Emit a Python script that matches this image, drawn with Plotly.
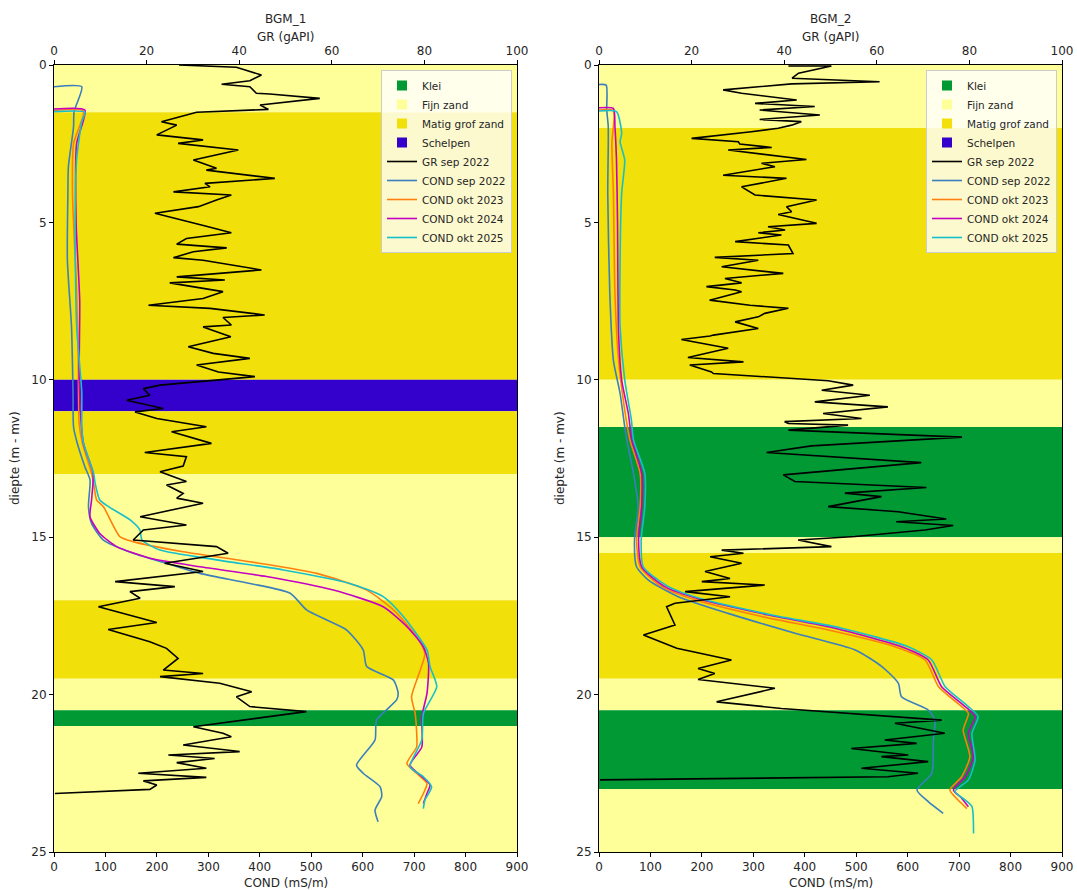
import plotly.graph_objects as go

# ---------------- data ----------------
# Lithology bands (top depth, bottom depth, class)
bands1_top = [0.0, 1.5, 10.0, 11.0, 13.0, 17.0, 19.5, 20.5, 21.0]
bands1_bot = [1.5, 10.0, 11.0, 13.0, 17.0, 19.5, 20.5, 21.0, 25.0]
bands1_cls = ["Fijn zand", "Matig grof zand", "Schelpen", "Matig grof zand", "Fijn zand",
              "Matig grof zand", "Fijn zand", "Klei", "Fijn zand"]

bands2_top = [0.0, 2.0, 10.0, 11.5, 15.0, 15.5, 19.5, 20.5, 23.0]
bands2_bot = [2.0, 10.0, 11.5, 15.0, 15.5, 19.5, 20.5, 23.0, 25.0]
bands2_cls = ["Fijn zand", "Matig grof zand", "Fijn zand", "Klei", "Fijn zand",
              "Matig grof zand", "Fijn zand", "Klei", "Fijn zand"]

litho_names = ["Klei", "Fijn zand", "Matig grof zand", "Schelpen"]
litho_colors = ["#009933", "#FFFF99", "#F1E00A", "#3300CC"]

# BGM_1 GR sep 2022
gr1_depth = [0.00, 0.07, 0.32, 0.50, 0.61, 0.69, 0.90, 0.92, 1.06, 1.27, 1.41, 1.50, 1.80, 1.91,
             2.22, 2.38, 2.49, 2.70, 3.02, 3.28, 3.34, 3.60, 3.76, 3.87, 4.03, 4.13, 4.29, 4.50,
             4.71, 4.93, 5.12, 5.33, 5.51, 5.69, 5.81, 5.93, 6.12, 6.20, 6.51, 6.73, 6.83, 6.92,
             7.20, 7.42, 7.63, 7.73, 7.94, 8.02, 8.26, 8.32, 8.63, 8.95, 9.16, 9.32, 9.53, 9.75,
             9.90, 10.17, 10.28, 10.49, 10.65, 10.91, 11.02, 11.23, 11.49, 11.65, 12.02, 12.31,
             12.44, 12.74, 12.92, 13.23, 13.34, 13.61, 13.76, 13.92, 14.13, 14.35, 14.61, 14.77,
             15.09, 15.30, 15.51, 15.83, 16.09, 16.41, 16.57, 16.73, 16.94, 17.21, 17.71, 17.93,
             18.32, 18.53, 18.85, 19.22, 19.33, 19.43, 19.64, 19.91, 20.07, 20.38, 20.54, 21.02,
             21.23, 21.34, 21.60, 21.81, 21.92, 22.03, 22.16, 22.34, 22.50, 22.63, 22.74, 22.87,
             23.01, 23.14]
gr1_val = [27.0, 39.4, 44.8, 42.3, 36.2, 42.3, 43.7, 46.6, 57.4, 44.5, 46.3, 30.8, 23.2, 26.5,
           22.2, 32.2, 26.8, 39.8, 30.1, 35.1, 32.9, 47.7, 32.6, 33.7, 25.8, 38.3, 35.1, 31.2,
           21.8, 27.9, 32.9, 38.3, 28.6, 26.5, 37.3, 30.1, 25.8, 32.2, 44.8, 26.5, 36.9, 25.0,
           36.5, 32.2, 20.4, 33.7, 45.5, 36.5, 38.3, 32.2, 38.2, 29.0, 34.4, 42.3, 30.8, 35.5,
           43.4, 22.9, 19.3, 20.7, 15.7, 23.6, 17.5, 22.2, 32.9, 25.4, 34.0, 19.6,
           28.6, 27.9, 22.9, 28.6, 24.3, 27.9, 26.5, 32.2, 25.8, 18.6, 28.6, 19.3,
           17.1, 35.1, 37.6, 23.9, 32.2, 13.2, 26.1, 16.4, 18.6, 9.6, 22.2, 11.7,
           20.7, 24.3, 26.8, 23.6, 32.2, 22.9, 35.8, 42.7, 39.4, 42.3, 54.5, 30.1,
           36.5, 38.3, 27.9, 40.1, 24.7, 34.7, 26.5, 32.9, 18.2, 32.9, 19.3, 22.2,
           20.7, 0.2]

# BGM_1 COND
c1a_depth = [0.69, 0.69, 1.48, 1.96, 3.23, 4.08, 6.2, 8.3, 10.4, 11.5, 12.0, 12.76, 13.18, 14.03,
             14.56, 15.09, 15.51, 15.83, 16.15, 16.47, 16.78, 17.31, 17.63, 17.95, 18.58, 19.11,
             19.54, 19.96, 20.17, 20.81, 21.44, 22.24, 22.50, 22.93, 23.24, 23.67, 24.04]
c1a_val = [0, 54, 39, 38, 28, 27, 26, 34, 37, 38, 45, 60, 70, 67,
           73, 96, 154, 219, 284, 381, 459, 491, 530, 569, 601, 608,
           660, 669, 666, 627, 624, 588, 601, 634, 637, 624, 630]

c1b_depth = [1.45, 1.47, 2.5, 4.08, 7.2, 9.3, 11.4, 12.0, 12.97, 13.29, 13.82, 14.03, 14.98, 15.14,
             15.46, 15.78, 16.15, 16.68, 17.31, 18.16, 18.69, 19.22, 20.07, 20.60, 21.23, 21.66,
             22.19, 22.50, 22.82, 23.14, 23.46]
c1b_val = [0, 57, 38, 36, 44, 47, 49, 55, 73, 77, 83, 96, 128, 154,
           251, 381, 511, 608, 660, 705, 721, 712, 695, 702, 705, 705,
           686, 705, 725, 718, 708]

c1c_depth = [1.40, 1.43, 2.5, 5.0, 7.5, 10.0, 12.0, 12.97, 13.82, 14.35, 14.88, 15.30, 15.67, 15.94,
             16.25, 16.68, 17.21, 17.84, 18.48, 19.01, 19.96, 20.70, 21.66, 22.24, 22.56, 22.87,
             23.14, 23.46]
c1c_val = [0, 60, 44, 43, 50, 49, 57, 76, 73, 70, 89, 122, 187, 284,
           413, 543, 640, 686, 718, 728, 725, 715, 715, 692, 712, 731,
           725, 718]

c1d_depth = [1.48, 1.50, 1.80, 3.0, 5.0, 8.3, 10.4, 11.5, 12.0, 12.97, 13.29, 13.82, 14.03, 14.45,
             14.77, 15.09, 15.41, 15.72, 16.04, 16.47, 16.89, 17.52, 18.58, 19.11, 19.75, 20.60,
             21.44, 22.29, 22.61, 22.93, 23.35, 23.62]
c1d_val = [0, 60, 54, 44, 41, 44, 54, 54, 57, 77, 80, 89, 106, 148,
           167, 171, 206, 316, 446, 575, 640, 679, 725, 731, 744, 718,
           715, 692, 718, 734, 721, 718]

# BGM_2 GR sep 2022
gr2_depth = [0.03, 0.03, 0.26, 0.42, 0.53, 0.60, 0.79, 0.90, 1.11, 1.22, 1.32, 1.43, 1.59, 1.73,
             1.80, 1.91, 2.01, 2.12, 2.33, 2.44, 2.51, 2.62, 2.70, 2.86, 3.00, 3.12, 3.23, 3.50,
             3.60, 3.87, 4.13, 4.29, 4.50, 4.66, 4.75, 5.03, 5.14, 5.24, 5.33, 5.40, 5.61, 5.72,
             5.99, 6.11, 6.20, 6.41, 6.62, 6.78, 6.92, 7.04, 7.15, 7.20, 7.47, 7.63, 7.73, 7.89,
             8.00, 8.16, 8.37, 8.58, 8.61, 8.72, 9.00, 9.29, 9.43, 9.53, 9.75, 9.80, 9.99, 10.03,
             10.17, 10.33, 10.49, 10.70, 10.86, 11.07, 11.23, 11.33, 11.39, 11.44, 11.60, 11.82,
             12.10, 12.31, 12.63, 13.02, 13.23, 13.42, 13.60, 13.71, 14.03, 14.19, 14.42, 14.51,
             14.63, 14.77, 14.98, 15.09, 15.30, 15.41, 15.51, 15.62, 15.83, 16.09, 16.31, 16.41,
             16.52, 16.73, 16.89, 17.10, 17.21, 17.79, 18.11, 18.53, 18.90, 19.17, 19.33, 19.52,
             19.80, 20.23, 20.44, 20.81, 20.91, 21.23, 21.44, 21.55, 21.71, 21.92, 21.97, 22.13,
             22.34, 22.50, 22.61, 22.71]
gr2_val = [40.9, 50.2, 43.1, 41.7, 60.6, 41.6, 26.8, 30.8, 42.7, 33.7, 46.6, 34.7, 47.7, 34.7,
           43.7, 41.6, 38.7, 32.9, 20.0, 30.1, 30.4, 37.3, 27.9, 36.5, 44.8, 35.1, 38.0, 26.8,
           40.5, 30.8, 33.7, 47.0, 40.5, 41.6, 38.7, 47.0, 36.5, 40.2, 34.4, 39.4, 29.4, 40.9,
           41.9, 25.0, 34.4, 26.5, 39.8, 27.2, 30.8, 23.2, 29.4, 30.8, 23.9, 32.6, 40.9, 35.8,
           34.4, 29.4, 34.4, 24.7, 24.0, 17.8, 27.9, 19.2, 31.2, 19.6, 24.3, 24.7, 43.7, 49.5,
           54.9, 48.1, 58.5, 46.6, 62.4, 48.4, 56.7, 40.1, 40.9, 53.8, 40.9, 78.4,
           45.9, 36.2, 69.6, 39.8, 42.3, 70.7, 53.1, 61.0, 49.5, 64.6, 75.0, 64.2,
           76.5, 70.4, 55.3, 43.0, 50.2, 26.5, 31.2, 24.0, 30.8, 22.9, 28.3, 22.2,
           35.8, 18.6, 28.3, 16.4, 14.6, 16.4, 9.6, 16.8, 28.6, 21.4, 25.0, 21.4,
           38.0, 25.4, 39.4, 74.0, 63.9, 74.7, 61.7, 68.6, 54.5, 66.8, 61.0, 71.1,
           56.7, 68.9, 62.4, 0.2]

# BGM_2 COND
c2a_depth = [0.62, 0.64, 1.43, 1.96, 4.08, 7.26, 9.38, 10.43, 11.49, 11.91, 12.97, 14.03, 15.09,
             15.94, 16.36, 16.89, 17.42, 18.05, 18.58, 19.11, 19.64, 20.07, 20.49, 20.81, 21.44,
             22.50, 23.03, 23.40, 23.77]
c2a_val = [0, 14, 15, 18, 17, 21, 28, 41, 50, 54, 67, 76, 69,
           73, 96, 154, 251, 381, 498, 550, 582, 588, 640, 653, 650,
           647, 618, 640, 669]

c2b_depth = [1.43, 1.45, 2.49, 4.08, 7.26, 9.38, 10.96, 11.91, 12.97, 14.03, 15.09, 15.94, 16.57,
             16.99, 17.52, 17.95, 18.48, 18.90, 19.75, 20.38, 20.60, 21.13, 21.97, 22.61, 23.03,
             23.35, 23.62]
c2b_val = [0, 28, 25, 28, 31, 38, 50, 60, 80, 80, 73, 80, 122,
           187, 316, 446, 575, 634, 660, 705, 718, 708, 721, 705, 682,
           698, 715]

c2c_depth = [1.36, 1.38, 1.96, 3.0, 5.0, 8.5, 10.0, 11.07, 11.91, 12.97, 14.03, 15.09, 15.94,
             16.57, 16.99, 17.47, 17.89, 18.48, 18.90, 19.75, 20.38, 20.70, 21.23, 21.97, 22.61,
             23.03, 23.29, 23.56]
c2c_val = [0, 28, 31, 34, 36, 38, 44, 57, 64, 83, 83, 77, 83,
           128, 200, 329, 459, 588, 640, 666, 712, 731, 718, 728, 712,
           689, 705, 718]

c2d_depth = [1.46, 1.48, 2.17, 2.44, 3.02, 4.08, 6.2, 8.3, 10.0, 11.28, 11.91, 12.97, 14.03, 15.09,
             15.94, 16.57, 16.99, 17.47, 17.89, 18.48, 18.90, 19.75, 20.38, 20.70, 21.23, 22.08,
             22.71, 23.08, 23.35, 23.56, 24.41]
c2d_val = [0, 34, 44, 41, 50, 44, 41, 41, 50, 63, 67, 89, 89, 82,
           86, 135, 206, 336, 472, 601, 647, 673, 718, 737, 725, 731,
           718, 692, 712, 725, 728]

cond_names = ["COND sep 2022", "COND okt 2023", "COND okt 2024", "COND okt 2025"]
cond_colors = ["#3b7fbf", "#ff7f0e", "#c400c4", "#17bfcc"]

# ---------------- figure ----------------
W, H = 1077, 890
ML, MR, MT, MB = 54, 15, 65, 38          # plot-area margins (px)
PW, PH = W - ML - MR, H - MT - MB       # inner paper area


def px_x(px):
    return (px - ML) / PW


def px_y(py):
    return (H - MB - py) / PH


fig = go.Figure()

FONT = "DejaVu Sans"
TXT = "#262626"

panels = [
    dict(xb="x", xt="x2", y="y", legend="legend",
         gr=(gr1_depth, gr1_val),
         cond=[(c1a_depth, c1a_val), (c1b_depth, c1b_val), (c1c_depth, c1c_val), (c1d_depth, c1d_val)],
         bands=(bands1_top, bands1_bot, bands1_cls)),
    dict(xb="x3", xt="x4", y="y2", legend="legend2",
         gr=(gr2_depth, gr2_val),
         cond=[(c2a_depth, c2a_val), (c2b_depth, c2b_val), (c2c_depth, c2c_val), (c2d_depth, c2d_val)],
         bands=(bands2_top, bands2_bot, bands2_cls)),
]

shapes = []
for p in panels:
    # legend-only lithology entries
    for nm, col in zip(litho_names, litho_colors):
        fig.add_trace(go.Scatter(x=[None], y=[None], mode="markers", name=nm,
                                 marker=dict(symbol="square", size=10, color=col),
                                 xaxis=p["xb"], yaxis=p["y"], legend=p["legend"]))
    d, v = p["gr"]
    fig.add_trace(go.Scatter(x=v, y=d, mode="lines", name="GR sep 2022",
                             line=dict(color="black", width=1.6),
                             xaxis=p["xt"], yaxis=p["y"], legend=p["legend"]))
    for (cd, cv), nm, col in zip(p["cond"], cond_names, cond_colors):
        fig.add_trace(go.Scatter(x=cv, y=cd, mode="lines", name=nm,
                                 line=dict(color=col, width=1.6, shape="spline", smoothing=0.6),
                                 xaxis=p["xb"], yaxis=p["y"], legend=p["legend"]))
    tops, bots, cls = p["bands"]
    for t, b, c in zip(tops, bots, cls):
        shapes.append(dict(type="rect", xref=p["xb"] + " domain", yref=p["y"],
                           x0=0, x1=1, y0=t, y1=b, layer="below", line=dict(width=0),
                           fillcolor=litho_colors[litho_names.index(c)]))

dom1 = [px_x(54), px_x(517)]
dom2 = [px_x(599), px_x(1062)]

tick_common = dict(ticks="outside", ticklen=4, tickcolor="black", tickwidth=1,
                   showgrid=False, zeroline=False, showline=True, linecolor="black",
                   linewidth=1, automargin=False, tickfont=dict(size=12, color=TXT, family=FONT))


def bottom_axis(dom, anchor):
    return dict(domain=dom, anchor=anchor, range=[0, 900], tickmode="linear", tick0=0, dtick=100,
                side="bottom", **tick_common)


def top_axis(over, anchor):
    return dict(overlaying=over, anchor=anchor, range=[0, 100], tickmode="linear", tick0=0, dtick=20,
                side="top", **tick_common)


def y_axis(anchor):
    return dict(domain=[0, 1], anchor=anchor, range=[25, 0], tickmode="linear", tick0=0, dtick=5,
                mirror=True, **tick_common)


legend_common = dict(bgcolor="rgba(255,255,255,0.8)", bordercolor="#cccccc", borderwidth=1,
                     font=dict(size=10.5, color=TXT, family=FONT), xanchor="right", yanchor="top",
                     traceorder="normal", itemwidth=30, tracegroupgap=0)

tfont = dict(size=12, color=TXT, family=FONT)
annotations = []
for dom, name, ylab_px in [(dom1, "BGM_1", 15), (dom2, "BGM_2", 560)]:
    cx = (dom[0] + dom[1]) / 2
    annotations.append(dict(text=name, x=cx, y=px_y(19), xref="paper", yref="paper",
                            showarrow=False, font=tfont, xanchor="center", yanchor="middle"))
    annotations.append(dict(text="GR (gAPI)", x=cx, y=px_y(37), xref="paper", yref="paper",
                            showarrow=False, font=tfont, xanchor="center", yanchor="middle"))
    annotations.append(dict(text="COND (mS/m)", x=cx, y=px_y(883), xref="paper", yref="paper",
                            showarrow=False, font=tfont, xanchor="center", yanchor="middle"))
    annotations.append(dict(text="diepte (m - mv)", x=px_x(ylab_px), y=px_y(458), xref="paper",
                            yref="paper", showarrow=False, font=tfont, textangle=-90,
                            xanchor="center", yanchor="middle"))

fig.update_layout(
    width=W, height=H, margin=dict(l=ML, r=MR, t=MT, b=MB, autoexpand=False),
    paper_bgcolor="white", plot_bgcolor="white",
    font=dict(family=FONT, color=TXT),
    xaxis=bottom_axis(dom1, "y"),
    xaxis2=top_axis("x", "y"),
    yaxis=y_axis("x"),
    xaxis3=bottom_axis(dom2, "y2"),
    xaxis4=top_axis("x3", "y2"),
    yaxis2=y_axis("x3"),
    legend=dict(x=px_x(512), y=px_y(70), **legend_common),
    legend2=dict(x=px_x(1057), y=px_y(70), **legend_common),
    shapes=shapes,
    annotations=annotations,
    showlegend=True,
)

# remove the default page margin so the 1077x890 figure sits exactly in the window
fig.write_html("out.html", config={"displayModeBar": False},
               post_script="document.body.style.margin='0';document.body.style.overflow='hidden';")
